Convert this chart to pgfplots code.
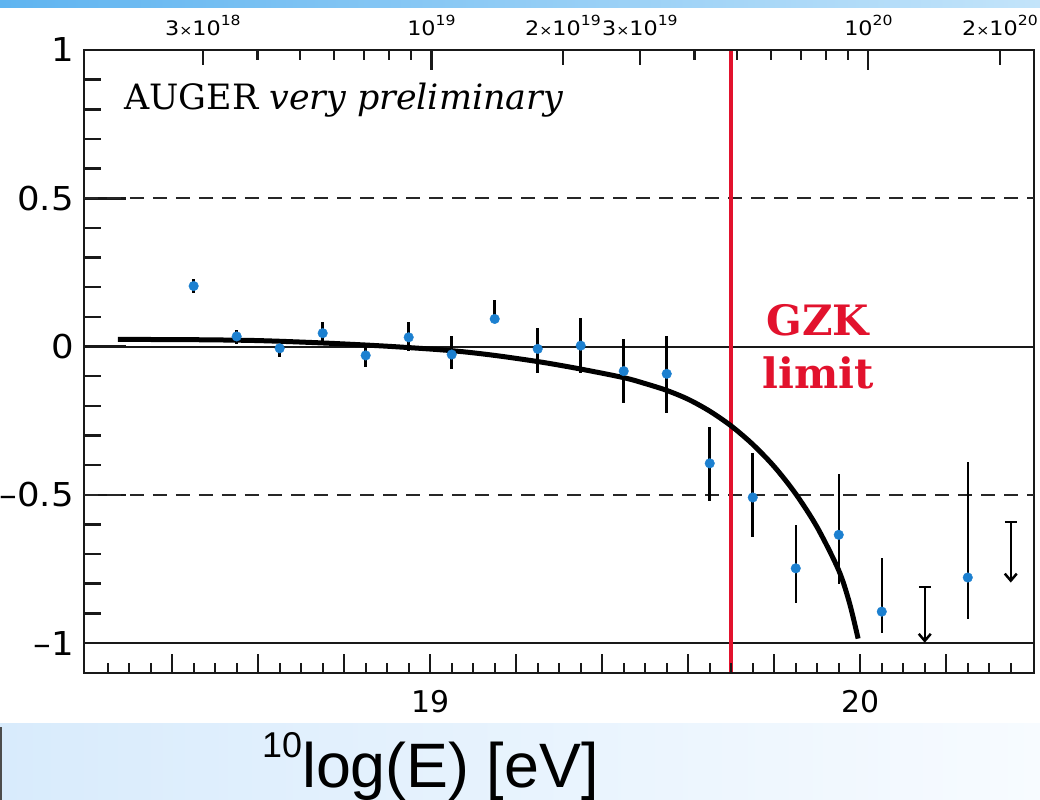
\documentclass[border=0pt]{standalone}
\usepackage{fontspec}
\setmainfont{DejaVu Sans}
\newfontfamily\serif{DejaVu Serif}
\newfontfamily\arial{Liberation Sans}
\usepackage{pgfplots}
\pgfplotsset{compat=1.18}
\usetikzlibrary{arrows.meta}
\definecolor{dotblue}{RGB}{28,128,208}
\definecolor{gzkred}{RGB}{226,18,45}
\newcommand{\tlx}[2]{\scalebox{1.12}[1]{#1{\fontsize{14}{15}\selectfont ×}10\raisebox{0.5em}{\fontsize{14}{15}\selectfont #2}}}
\newcommand{\tld}[1]{\scalebox{1.12}[1]{10\raisebox{0.5em}{\fontsize{14}{15}\selectfont #1}}}
\newcommand{\yl}[1]{\scalebox{1.08}[1]{#1}}
\begin{document}
\begin{tikzpicture}
% background
\fill[white] (-84bp,-127bp) rectangle (956bp,673bp);
\shade[left color={rgb,255:red,95;green,180;blue,240}, right color={rgb,255:red,195;green,228;blue,250}] (-84bp,665bp) rectangle (956bp,673bp);
\shade[left color={rgb,255:red,216;green,235;blue,252}, right color={rgb,255:red,247;green,251;blue,255}] (-84bp,-127bp) rectangle (956bp,-50bp);
\fill[black!70] (-84bp,-127bp) rectangle (-82bp,-54bp);

% main axis
\begin{axis}[scale only axis, width=950bp, height=623bp,
  xmin=18.195, xmax=20.404, ymin=-1.101, ymax=1,
  axis line style={line width=2.5bp, black!90},
  xtick=\empty,
  ytick={-1,-0.5,0,0.5,1},
  yticklabels={\yl{–1},\yl{–0.5},\yl{0},\yl{0.5},\yl{1}},
  minor y tick num=4,
  ytick pos=left, tick align=inside,
  major tick length=42bp, minor tick length=17bp,
  tick style={line width=2.5bp, black!90},
  yticklabel style={font=\fontsize{33}{36}\selectfont, inner sep=0pt, xshift=-10bp},
]
\addplot[black!85, line width=2bp, dash pattern=on 14bp off 9bp] coordinates {(18.195,0.5) (20.404,0.5)};
\addplot[black!85, line width=2bp, dash pattern=on 14bp off 9bp] coordinates {(18.195,-0.5) (20.404,-0.5)};
\addplot[black!90, line width=2bp] coordinates {(18.195,0) (20.404,0)};
\addplot[black!90, line width=2bp] coordinates {(18.195,-1) (20.404,-1)};
\addplot[gzkred, line width=4bp] coordinates {(19.7,-1.101) (19.7,1)};
% fit curve
\addplot[black, line width=5bp, smooth] coordinates {
(18.274,0.024) (18.45,0.023) (18.60,0.020) (18.75,0.012) (18.90,0.001)
(19.05,-0.014) (19.15,-0.030) (19.26,-0.053) (19.35,-0.076) (19.45,-0.105)
(19.50,-0.125) (19.55,-0.148) (19.60,-0.178) (19.65,-0.218) (19.70,-0.268)
(19.75,-0.330) (19.80,-0.405) (19.85,-0.497) (19.90,-0.610) (19.95,-0.755)
(19.975,-0.865) (19.995,-0.985)};
% error bars
\addplot[only marks, mark=none, error bars/.cd, y dir=both, y explicit, error mark=none,
  error bar style={black, line width=2.5bp}]
  table[x=x, y=y, y error plus=ep, y error minus=em] {
x y ep em
18.45 0.204 0.025 0.023
18.55 0.034 0.022 0.025
18.65 -0.006 0.015 0.030
18.75 0.045 0.037 0.025
18.85 -0.030 0.028 0.038
18.95 0.031 0.051 0.045
19.05 -0.027 0.061 0.048
19.15 0.093 0.065 0.005
19.25 -0.008 0.071 0.082
19.35 0.003 0.092 0.093
19.45 -0.083 0.109 0.108
19.55 -0.092 0.126 0.132
19.65 -0.394 0.121 0.126
19.75 -0.509 0.149 0.135
19.85 -0.748 0.147 0.116
19.95 -0.635 0.205 0.165
20.05 -0.894 0.182 0.071
20.25 -0.779 0.388 0.141
};
\addplot[only marks, mark=*, mark size=4.8bp, mark options={fill=dotblue, draw=dotblue}]
  table[x=x, y=y] {
x y
18.45 0.204
18.55 0.034
18.65 -0.006
18.75 0.045
18.85 -0.030
18.95 0.031
19.05 -0.027
19.15 0.093
19.25 -0.008
19.35 0.003
19.45 -0.083
19.55 -0.092
19.65 -0.394
19.75 -0.509
19.85 -0.748
19.95 -0.635
20.05 -0.894
20.25 -0.779
};
% upper limits
\addplot[black, line width=2.5bp, {Bar[width=12bp]}-{Straight Barb[length=7bp,width=12bp]}] coordinates {(20.15,-0.807) (20.15,-0.999)};
\addplot[black, line width=2.5bp, {Bar[width=12bp]}-{Straight Barb[length=7bp,width=12bp]}] coordinates {(20.35,-0.588) (20.35,-0.796)};
\end{axis}

% bottom x ticks
\begin{axis}[scale only axis, width=950bp, height=623bp,
  xmin=18.195, xmax=20.404, ymin=-1.101, ymax=1,
  hide y axis, axis x line*=bottom,
  axis line style={line width=2.5bp, black!90},
  xtick={18.4,18.6,18.8,19,19.2,19.4,19.6,19.8,20,20.2},
  xticklabels={,,,19,,,,,20,},
  minor xtick={18.25,18.3,18.35,18.45,18.5,18.55,18.65,18.7,18.75,18.85,18.9,18.95,19.05,19.1,19.15,19.25,19.3,19.35,19.45,19.5,19.55,19.65,19.7,19.75,19.85,19.9,19.95,20.05,20.1,20.15,20.25,20.3,20.35},
  tick align=inside,
  major tick length=19bp, minor tick length=10bp,
  tick style={line width=2.2bp, black!90},
  xticklabel style={font=\fontsize{30}{33}\selectfont, inner sep=0pt, yshift=-17bp},
]
\end{axis}

% top x ticks (energy)
\begin{axis}[scale only axis, width=950bp, height=623bp,
  xmin=18.205, xmax=20.379, ymin=-1.101, ymax=1,
  hide y axis, axis x line*=top,
  axis line style={line width=2.5bp, black!90},
  xtick={18.477,19,19.301,19.477,20,20.301},
  xticklabels={\tlx{3}{18},\tld{19},\tlx{2}{19},\tlx{3}{19},\tld{20},\tlx{2}{20}},
  extra x ticks={19,20},
  extra x tick labels={},
  extra x tick style={major tick length=20bp},
  minor xtick={18.602,18.699,18.778,18.845,18.903,18.954,19.602,19.699,19.778,19.845,19.903,19.954},
  tick align=inside,
  major tick length=15bp, minor tick length=10bp,
  tick style={line width=2.2bp, black!90},
  xticklabel style={font=\fontsize{20}{22}\selectfont, inner sep=0pt, yshift=14bp},
]
\end{axis}

% texts
\node[anchor=base west, inner sep=0pt] at (40bp,563bp) {\serif\fontsize{35}{40}\selectfont AUGER \textit{very preliminary}};
\node[anchor=base, inner sep=0pt, text=gzkred] at (734bp,337bp) {\serif\bfseries\fontsize{42}{48}\selectfont GZK};
\node[anchor=base, inner sep=0pt, text=gzkred] at (734bp,284bp) {\serif\bfseries\fontsize{42}{48}\selectfont limit};
\node[anchor=base west, inner sep=0pt] at (178bp,-114bp) {\arial\fontsize{63}{70}\selectfont\raisebox{30bp}{\fontsize{36}{40}\selectfont 10}log(E) [eV]};

\pgfresetboundingbox
\useasboundingbox (-84bp,-127bp) rectangle (956bp,673bp);
\end{tikzpicture}
\end{document}
